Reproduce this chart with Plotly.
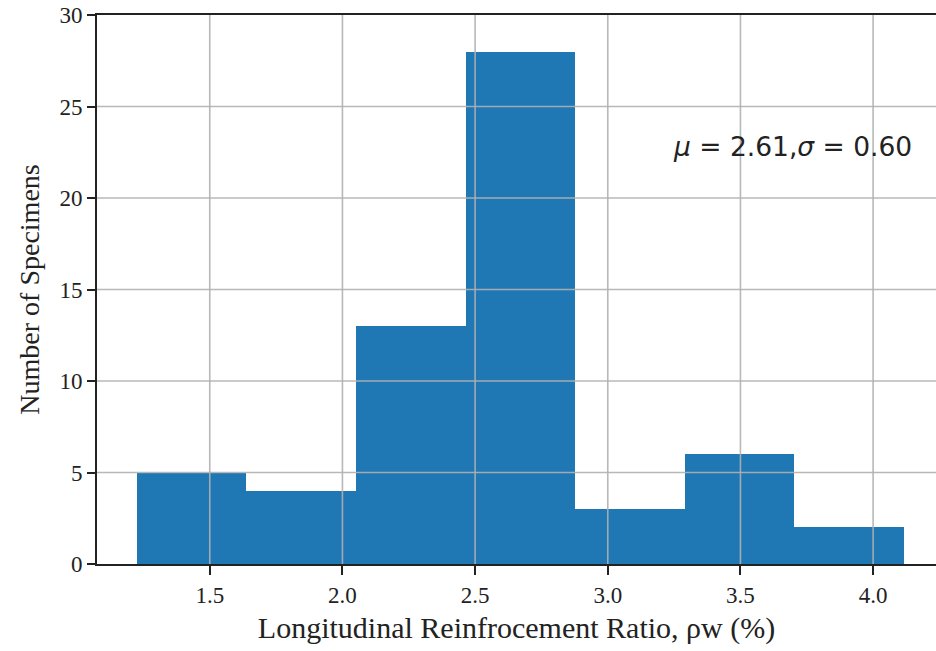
import plotly.graph_objects as go

# Histogram data (bin edges and counts)
bin_edges = [1.225, 1.638, 2.051, 2.464, 2.877, 3.290, 3.703, 4.116]
counts = [5, 4, 13, 28, 3, 6, 2]

x_ticks = [1.5, 2.0, 2.5, 3.0, 3.5, 4.0]
x_tick_labels = ["1.5", "2.0", "2.5", "3.0", "3.5", "4.0"]
y_ticks = [0, 5, 10, 15, 20, 25, 30]
y_tick_labels = ["0", "5", "10", "15", "20", "25", "30"]

mu, sigma = 2.61, 0.60

centers = [(a + b) / 2 for a, b in zip(bin_edges[:-1], bin_edges[1:])]
widths = [b - a for a, b in zip(bin_edges[:-1], bin_edges[1:])]

fig = go.Figure()
fig.add_trace(go.Bar(
    x=centers, y=counts, width=widths,
    marker=dict(color="#1f77b4", line=dict(width=0)),
    showlegend=False, hoverinfo="x+y",
))

x_range = [1.075, 4.237]
y_range = [0, 30]

# grid lines drawn above the bars (as in the reference)
grid_color = "rgba(176,176,176,0.9)"
for xv in x_ticks:
    fig.add_shape(type="line", xref="x", yref="y", x0=xv, x1=xv, y0=y_range[0], y1=y_range[1],
                  line=dict(color=grid_color, width=1.6), layer="above")
for yv in y_ticks[1:-1]:
    fig.add_shape(type="line", xref="x", yref="y", x0=x_range[0], x1=x_range[1], y0=yv, y1=yv,
                  line=dict(color=grid_color, width=1.6), layer="above")

fig.add_annotation(
    x=3.24, y=22.8, xref="x", yref="y", xanchor="left", yanchor="middle",
    text=f"<i>μ</i> = {mu:.2f},<i>σ</i> = {sigma:.2f}",
    showarrow=False, font=dict(family="DejaVu Sans", size=26.5, color="#222"),
)

tick_font = dict(family="Liberation Serif", size=23, color="#222")

fig.update_layout(
    width=936, height=651,
    margin=dict(l=97, r=0, t=15, b=87),
    paper_bgcolor="white", plot_bgcolor="white",
    bargap=0,
    xaxis=dict(
        range=x_range, tickvals=x_ticks, ticktext=x_tick_labels,
        showgrid=False, zeroline=False,
        showline=True, linecolor="#222", linewidth=1.8, mirror=True,
        ticks="outside", ticklen=9, tickwidth=1.5, tickcolor="#222",
        tickfont=tick_font,
        title=dict(text="Longitudinal Reinfrocement Ratio, ρw (%)",
                   font=dict(family="Liberation Serif", size=30, color="#222"), standoff=10),
        layer="above traces",
    ),
    yaxis=dict(
        range=y_range, tickvals=y_ticks, ticktext=y_tick_labels,
        showgrid=False, zeroline=False,
        showline=True, linecolor="#222", linewidth=1.8, mirror=False,
        ticks="outside", ticklen=8, tickwidth=1.5, tickcolor="#222",
        tickfont=tick_font,
        title=dict(text="Number of Specimens",
                   font=dict(family="Liberation Serif", size=28, color="#222"), standoff=12),
        layer="above traces",
    ),
)

fig.write_html("out.html")
